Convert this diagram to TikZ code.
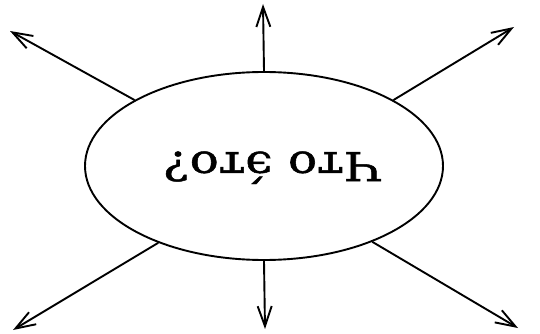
\documentclass[tikz,border=0pt]{standalone}
\usepackage{fontspec}
\setmainfont{DejaVu Serif}
\newfontfamily\labelfont{DejaVu Serif}[FakeBold=1.2]
\usetikzlibrary{arrows.meta,shapes.geometric}
\begin{document}
\begin{tikzpicture}[x=1pt,y=-1pt,
  line width=1.9pt,
  ray/.style={-{Straight Barb[length=20pt,width=14pt,line width=1.9pt]}},
  oval/.style={draw,ellipse,minimum width=358pt,minimum height=188pt,inner sep=0pt}]
\useasboundingbox (0,0) rectangle (540,334);
\node[oval] (e) at (264,166) {};
\node[rotate=180,xscale=1.21,anchor=base,font=\labelfont\fontsize{40}{48}\selectfont,inner sep=0pt] (t) at (272.5,152) {Что э́то?};
\coordinate (p1) at (10,31);
\coordinate (p2) at (263,4);
\coordinate (p3) at (514,27);
\coordinate (p4) at (13,330);
\coordinate (p5) at (265,329);
\coordinate (p6) at (518,328);
\draw[ray] (e.153.6) -- (p1);
\draw[ray] (e.90) -- (p2);
\draw[ray] (e.27.4) -- (p3);
\draw[ray] (e.216.1) -- (p4);
\draw[ray] (e.270) -- (p5);
\draw[ray] (e.325.5) -- (p6);
\end{tikzpicture}
\end{document}
